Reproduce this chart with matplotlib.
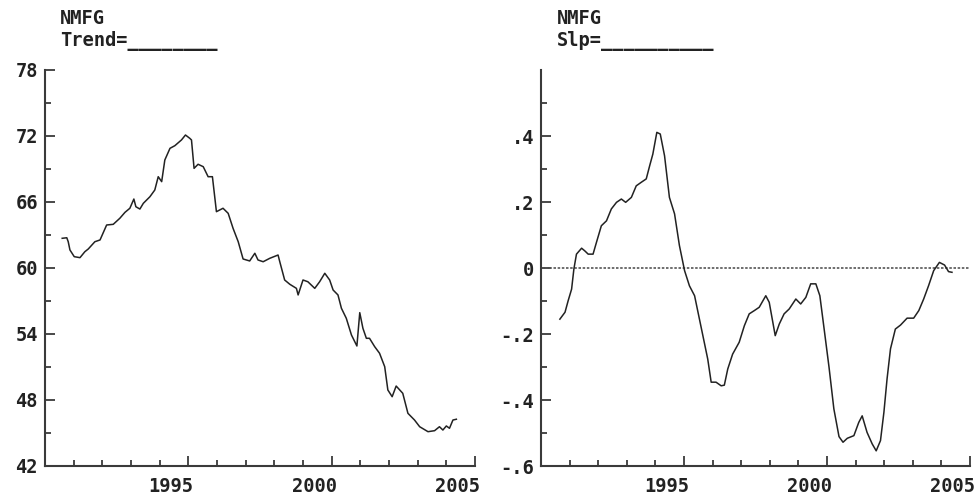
import matplotlib
matplotlib.use('Agg')
import matplotlib.pyplot as plt
import matplotlib.transforms as mtransforms
import numpy as np

# values
trendYears = [1990.60, 1990.76, 1990.81, 1990.87, 1991.02, 1991.22, 1991.39, 1991.51, 1991.74, 1991.92,
              1992.15, 1992.38, 1992.61, 1992.79, 1992.96, 1993.10, 1993.17, 1993.31, 1993.43, 1993.66,
              1993.83, 1993.95, 1994.07, 1994.18, 1994.36, 1994.53, 1994.76, 1994.90, 1995.05, 1995.11,
              1995.20, 1995.34, 1995.52, 1995.69, 1995.84, 1995.98, 1996.21, 1996.39, 1996.56, 1996.74,
              1996.91, 1997.14, 1997.32, 1997.43, 1997.61, 1997.84, 1998.13, 1998.19, 1998.36, 1998.54,
              1998.77, 1998.83, 1999.00, 1999.17, 1999.41, 1999.58, 1999.76, 1999.93, 2000.05, 2000.22,
              2000.34, 2000.51, 2000.69, 2000.88, 2000.98, 2001.09, 2001.21, 2001.32, 2001.50, 2001.67,
              2001.85, 2001.96, 2002.11, 2002.25, 2002.48, 2002.66, 2002.89, 2003.07, 2003.36, 2003.59,
              2003.76, 2003.88, 2004.00, 2004.11, 2004.23, 2004.35]
trendVals = [62.70, 62.75, 62.39, 61.64, 61.03, 60.94, 61.48, 61.73, 62.39, 62.55,
             63.91, 63.97, 64.52, 65.06, 65.43, 66.27, 65.57, 65.36, 65.88, 66.48,
             67.09, 68.30, 67.85, 69.82, 70.88, 71.12, 71.64, 72.09, 71.79, 71.64,
             69.06, 69.43, 69.21, 68.30, 68.30, 65.12, 65.43, 64.97, 63.61, 62.39,
             60.82, 60.64, 61.34, 60.73, 60.57, 60.88, 61.18, 60.57, 58.91, 58.52,
             58.15, 57.55, 58.91, 58.75, 58.15, 58.75, 59.52, 58.91, 58.00, 57.55,
             56.34, 55.43, 53.91, 52.91, 55.94, 54.52, 53.61, 53.61, 52.85, 52.25,
             51.03, 48.91, 48.30, 49.27, 48.61, 46.79, 46.18, 45.57, 45.12, 45.21,
             45.57, 45.27, 45.64, 45.43, 46.18, 46.25]

slopeYears = [1990.66, 1990.84, 1990.95, 1991.07, 1991.15, 1991.24, 1991.42, 1991.53, 1991.65, 1991.82,
              1991.94, 1992.11, 1992.29, 1992.46, 1992.64, 1992.81, 1992.96, 1993.16, 1993.33, 1993.51,
              1993.68, 1993.80, 1993.91, 1994.05, 1994.17, 1994.32, 1994.49, 1994.67, 1994.84, 1995.02,
              1995.19, 1995.37, 1995.54, 1995.66, 1995.83, 1995.95, 1996.12, 1996.30, 1996.41, 1996.53,
              1996.70, 1996.93, 1997.11, 1997.28, 1997.46, 1997.63, 1997.86, 1997.98, 1998.19, 1998.33,
              1998.50, 1998.68, 1998.91, 1999.08, 1999.26, 1999.43, 1999.61, 1999.75, 1999.90, 2000.07,
              2000.24, 2000.42, 2000.56, 2000.71, 2000.94, 2001.11, 2001.23, 2001.40, 2001.58, 2001.72,
              2001.87, 2001.99, 2002.10, 2002.22, 2002.39, 2002.57, 2002.80, 2003.03, 2003.21, 2003.38,
              2003.55, 2003.73, 2003.93, 2004.11, 2004.25, 2004.37]
slopeVals = [-0.155, -0.134, -0.099, -0.064, -0.003, 0.042, 0.060, 0.052, 0.042, 0.042,
             0.078, 0.128, 0.143, 0.179, 0.199, 0.209, 0.199, 0.214, 0.249, 0.260,
             0.270, 0.310, 0.345, 0.411, 0.406, 0.340, 0.214, 0.164, 0.068, -0.008,
             -0.054, -0.084, -0.155, -0.205, -0.276, -0.346, -0.346, -0.357, -0.355, -0.306,
             -0.261, -0.225, -0.175, -0.139, -0.129, -0.119, -0.084, -0.104, -0.205, -0.170,
             -0.139, -0.124, -0.094, -0.109, -0.089, -0.048, -0.048, -0.084, -0.185, -0.300,
             -0.427, -0.511, -0.528, -0.516, -0.508, -0.468, -0.448, -0.498, -0.533, -0.554,
             -0.523, -0.437, -0.336, -0.245, -0.185, -0.173, -0.152, -0.152, -0.129, -0.094,
             -0.054, -0.008, 0.017, 0.009, -0.011, -0.013]

trendTicks = [42, 48, 54, 60, 66, 72, 78]
slopeTicks = [-0.6, -0.4, -0.2, 0, 0.2, 0.4]
slopeLabels = ['-.6', '-.4', '-.2', '0', '.2', '.4']
yearTicks = [1995, 2000, 2005]

plt.rcParams['font.family'] = ['DejaVu Sans Mono']
plt.rcParams['font.weight'] = 'bold'
ink = '#222222'
axcol = '#3a3a3a'

fig = plt.figure(figsize=(9.77, 4.97), dpi=100)
ax1 = fig.add_axes([45/977, 1-466/497, 430/977, 396/497])
ax2 = fig.add_axes([541/977, 1-466/497, 429/977, 396/497])

# year labels sit right-aligned, just past their tick
shift = mtransforms.ScaledTranslation(5/100, 0, fig.dpi_scale_trans)

def styleAxis(ax):
    ax.spines['top'].set_visible(False)
    ax.spines['right'].set_visible(False)
    for s in ['left', 'bottom']:
        ax.spines[s].set_linewidth(1.5)
        ax.spines[s].set_color(axcol)
    ax.set_xlim(1990, 2005)
    ax.set_xticks(yearTicks)
    ax.set_xticks(range(1991, 2005), minor=True)
    ax.tick_params(axis='both', which='both', direction='in', color=axcol, width=1.3,
                   labelsize=13.5, labelcolor=ink)
    ax.tick_params(axis='both', which='major', length=7)
    ax.tick_params(axis='both', which='minor', length=4)
    ax.tick_params(axis='x', pad=8)
    ax.tick_params(axis='y', pad=5)
    for lab in ax.get_xticklabels():
        lab.set_horizontalalignment('right')
        lab.set_transform(lab.get_transform() + shift)
    ax.patch.set_alpha(0)

ax1.plot(trendYears, trendVals, color=ink, lw=1.1)
styleAxis(ax1)
ax1.set_ylim(42, 78)
ax1.set_yticks(trendTicks)
ax1.set_yticks([45, 51, 57, 63, 69, 75], minor=True)

ax2.axhline(0, color='#555555', lw=1.2, ls=(0, (1.5, 1)))
ax2.plot(slopeYears, slopeVals, color=ink, lw=1.1)
styleAxis(ax2)
ax2.set_ylim(-0.6, 0.6)
ax2.set_yticks(slopeTicks)
ax2.set_yticklabels(slopeLabels)
ax2.set_yticks([-0.5, -0.3, -0.1, 0.1, 0.3, 0.5], minor=True)

fig.text(60/977, 1-9/497, 'NMFG\nTrend=________', fontsize=13.5, color=ink,
         va='top', ha='left', fontweight='bold')
fig.text(557/977, 1-9/497, 'NMFG\nSlp=__________', fontsize=13.5, color=ink,
         va='top', ha='left', fontweight='bold')

fig.savefig('out.png', dpi=100)
